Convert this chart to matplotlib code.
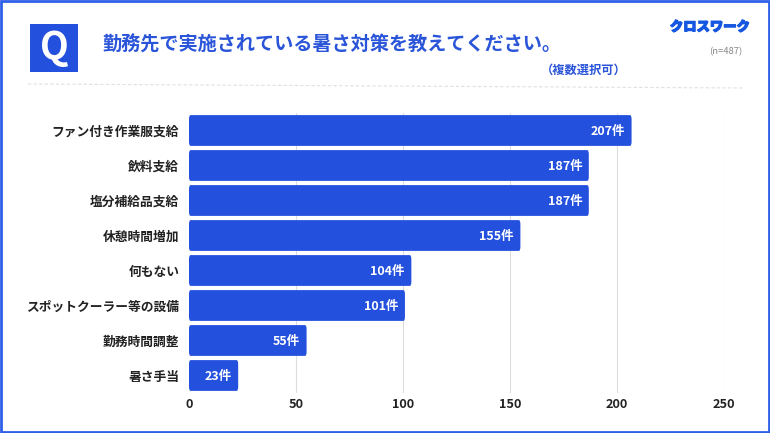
import matplotlib
matplotlib.use("Agg")
import matplotlib.pyplot as plt
import matplotlib.patheffects as pe
from matplotlib.patches import FancyBboxPatch, Rectangle

plt.rcParams['font.family'] = ['Noto Sans CJK JP', 'DejaVu Sans']

categories = ['ファン付き作業服支給', '飲料支給', '塩分補給品支給', '休憩時間増加',
              '何もない', 'スポットクーラー等の設備', '勤務時間調整', '暑さ手当']
values = [207, 187, 187, 155, 104, 101, 55, 23]
xticks = [0, 50, 100, 150, 200, 250]

W, H = 770, 433
blue = '#2450DE'
title_blue = '#2B55D9'

fig = plt.figure(figsize=(W / 100, H / 100), dpi=100, facecolor='white')

# page overlay in pixel coordinates
bg = fig.add_axes([0, 0, 1, 1])
bg.set_xlim(0, W)
bg.set_ylim(H, 0)
bg.axis('off')
bg.add_patch(Rectangle((1, 1), W - 2, H - 2, fill=False, ec='#2F5FE8', lw=2))
bg.add_patch(Rectangle((30, 24), 48, 48, fc=blue, ec='none'))
bg.text(54, 47.5, 'Q', color='white', fontsize=27, fontweight='bold', ha='center', va='center')
bg.text(102, 45, '勤務先で実施されている暑さ対策を教えてください。', color=title_blue, fontsize=13.8,
        fontweight='bold', ha='left', va='center')
bg.text(584, 70.5, '（複数選択可）', color=title_blue, fontsize=8.8, fontweight='bold', ha='center', va='center')
logo = bg.text(710, 27, 'クロスワーク', color='#1557E0', fontsize=9.6, fontweight='black', ha='center', va='center')
logo.set_path_effects([pe.withStroke(linewidth=0.9, foreground='#1557E0')])
bg.text(726, 52, '(n=487)', color='#888888', fontsize=6.8, ha='center', va='center')
bg.plot([28, 744], [84, 88], color='#E0E0E0', lw=0.8, ls=(0, (3, 2)))

left, right = 189, 723.5
top, bottom = 113, 393
ax = fig.add_axes([left / W, 1 - bottom / H, (right - left) / W, (bottom - top) / H])
ax.patch.set_alpha(0)
ax.set_xlim(0, 250)
ypos = list(range(len(categories)))
ax.set_ylim(len(categories) - 0.5, -0.5)

for x in xticks[1:]:
    ax.axvline(x, color='#DDDDDD', lw=0.8, zorder=1)

for y, v in zip(ypos, values):
    # tiny corner radius
    ax.add_patch(FancyBboxPatch((0, y - 0.44), v, 0.88, boxstyle='round,pad=0,rounding_size=0.8',
                                mutation_aspect=0.15, fc=blue, ec='none', zorder=2))
    ax.text(v - 3, y + 0.03, f'{v}件', color='white', fontsize=9, fontweight='bold',
            ha='right', va='center', zorder=3)

for s in ax.spines.values():
    s.set_visible(False)
ax.set_yticks(ypos)
ax.set_yticklabels(categories, fontsize=9.2, fontweight='bold', color='#222222')
ax.set_xticks(xticks)
ax.set_xticklabels([str(t) for t in xticks], fontsize=9.2, fontweight='bold', color='#222222')
ax.tick_params(length=0)
ax.tick_params(axis='y', pad=7)
ax.tick_params(axis='x', pad=3.5)

fig.savefig('out.png', dpi=100)
